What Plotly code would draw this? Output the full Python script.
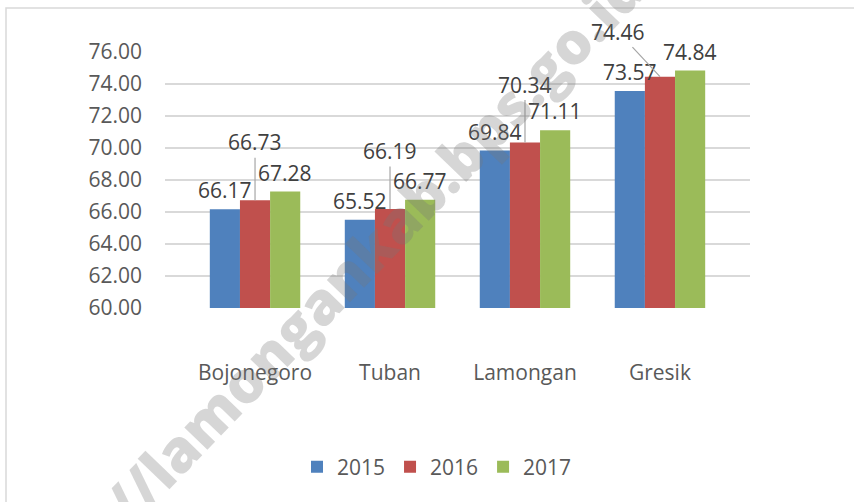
import plotly.graph_objects as go

# ---- data ----
categories = ["Bojonegoro", "Tuban", "Lamongan", "Gresik"]
years = ["2015", "2016", "2017"]
values_2015 = [66.17, 65.52, 69.84, 73.57]
values_2016 = [66.73, 66.19, 70.34, 74.46]
values_2017 = [67.28, 66.77, 71.11, 74.84]
y_ticks = [60, 62, 64, 66, 68, 70, 72, 74, 76]
watermark = "http://lamongankab.bps.go.id"

series = [values_2015, values_2016, values_2017]
colors = ["#4F81BD", "#C0504D", "#9BBB59"]
text_color = "#595959"
label_color = "#404040"
font_family = "Open Sans, Liberation Sans, sans-serif"

# ---- layout geometry (pixels) ----
WIDTH, HEIGHT = 854, 502
L, R, T, B = 165, 750, 52, 308
PW, PH = R - L, B - T


def px(x):
    return (x - L) / PW


def py(y):
    return (B - y) / PH


fig = go.Figure()
for name, vals, col in zip(years, series, colors):
    fig.add_trace(go.Bar(
        x=categories, y=vals, name=name,
        marker=dict(color=col, line=dict(width=0)),
        hoverinfo="skip",
    ))

# data labels
unit_px = PW / (3.667 + 0.667)
bar_px = unit_px * (1 - 0.33) / 3
annotations = []
for j, vals in enumerate(series):
    for i, (cat, v) in enumerate(zip(categories, vals)):
        shift = (j - 1) * bar_px
        txt = f"{v:.2f}"
        if j == 1:
            ax, ay = (-42, -45) if i == 3 else (0, -58)
            annotations.append(dict(
                x=cat, y=v, xshift=shift, text=txt, showarrow=True,
                arrowhead=0, arrowwidth=1.2, arrowcolor="#A6A6A6",
                ax=ax, ay=ay, standoff=0,
                font=dict(size=21, color=label_color, family=font_family),
            ))
        else:
            annotations.append(dict(
                x=cat, y=v, xshift=shift, yshift=3, text=txt,
                showarrow=False, yanchor="bottom",
                font=dict(size=21, color=label_color, family=font_family),
            ))

# watermark
annotations.append(dict(
    xref="paper", yref="paper", x=px(322), y=py(298),
    xanchor="center", yanchor="middle",
    text=watermark, showarrow=False, textangle=-46,
    font=dict(size=58, color="rgba(120,120,120,0.30)",
              family=font_family, weight=800),
))

fig.update_layout(
    width=WIDTH, height=HEIGHT,
    margin=dict(l=L, r=WIDTH - R, t=T, b=HEIGHT - B),
    paper_bgcolor="white", plot_bgcolor="white",
    barmode="group", bargap=0.33, bargroupgap=0,
    font=dict(family=font_family, size=21, color=text_color),
    xaxis=dict(
        range=[-0.667, 3.667], showgrid=False, zeroline=False,
        showline=False, ticks="", ticklabelstandoff=50, automargin=False,
        tickfont=dict(size=21, color=text_color),
    ),
    yaxis=dict(
        range=[60, 76], tickvals=y_ticks, tickformat=".2f",
        showgrid=True, gridcolor="#D9D9D9", gridwidth=1.5,
        zeroline=False, showline=False, ticks="", ticklabelstandoff=22,
        automargin=False,
        tickfont=dict(size=21, color=text_color),
    ),
    legend=dict(
        orientation="h", x=px(437), xanchor="center",
        y=py(467), yanchor="middle",
        font=dict(size=21, color=text_color), itemclick=False,
    ),
    showlegend=True,
    annotations=annotations,
    shapes=[dict(
        type="rect", xref="paper", yref="paper",
        x0=px(6), x1=px(858), y0=py(8), y1=py(508),
        line=dict(color="#D9D9D9", width=1.5), fillcolor="rgba(0,0,0,0)",
        layer="below",
    )],
)

fig.write_html(
    "out.html",
    config={"displayModeBar": False},
    post_script="document.body.style.margin='0px';",
)
